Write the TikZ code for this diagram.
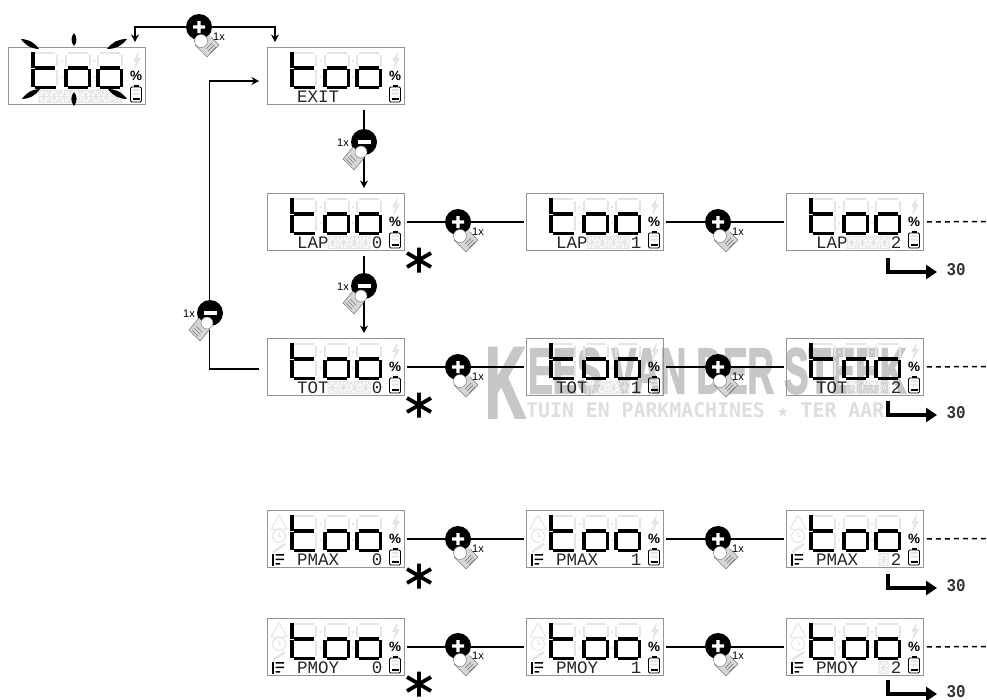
\documentclass[tikz,border=0pt]{standalone}
\usepackage{fontspec}
\setmainfont{Liberation Sans}
\newfontfamily\segfont{Liberation Mono}
\newfontfamily\markfont{DejaVu Sans Mono}
\newfontfamily\wmfont[FakeBold=3]{Liberation Sans}
\usetikzlibrary{arrows.meta}
\definecolor{ghost}{gray}{0.90}
\definecolor{frameg}{gray}{0.58}
\definecolor{fingerg}{gray}{0.84}
\definecolor{wmark}{gray}{0.78}
\definecolor{wmarkb}{gray}{0.87}
\tikzset{
  lcdbox/.style={draw=frameg,line width=0.9pt,minimum width=137pt,minimum height=57pt,inner sep=0,anchor=north west},
  seg/.style={line width=3.3pt,black,line cap=butt},
  gseg/.style={line width=2.8pt,ghost,line cap=butt},
  rowline/.style={line width=1.9pt,black},
  flow/.style={line width=1.9pt,black,line join=miter,-{Stealth[length=7.5pt,width=8pt]}},
  fatflow/.style={line width=3.8pt,black,line join=miter,-{Triangle[length=11pt,width=14pt]}},
  dashline/.style={line width=1.5pt,black,dash pattern=on 5pt off 4pt},
  btnnode/.style={circle,fill=black,minimum size=26pt,inner sep=0},
  timeslab/.style={font=\fontsize{11}{11}\selectfont,inner sep=0},
  seglab/.style={font=\segfont\fontsize{17.5}{17.5}\selectfont,text=black!85,inner sep=0},
  pics/lcdface/.style={code={
    \foreach \dx in {0,33,65}{
      \draw[gseg] (27+\dx,6)--(47+\dx,6) (25+\dx,8)--(25+\dx,19) (49+\dx,8)--(49+\dx,19) (49+\dx,23)--(49+\dx,38) (25+\dx,23)--(25+\dx,38);
    }
    \fill[ghost] (53.5,14) circle (1.3) (53.5,30) circle (1.3) (86,14) circle (1.3) (86,30) circle (1.3);
    \draw[seg] (25,5)--(25,20.5) (25,22)--(25,40) (26.5,21)--(47,21) (26.5,40.5)--(47.5,40.5);
    \foreach \dx in {0,32}{
      \draw[seg] (58+\dx,22)--(58+\dx,40) (59.5+\dx,21)--(80+\dx,21) (59.5+\dx,40.5)--(80+\dx,40.5) (81.5+\dx,22)--(81.5+\dx,40);
    }
    \fill[ghost] (131,4)--(125,14)--(128,14)--(126,23)--(133,11)--(130,11)--cycle;
    \node[font=\bfseries\fontsize{13.5}{13.5}\selectfont,inner sep=0] (-pct) at (128,29) {\%};
    \fill[black] (125.5,38) rectangle (130.5,40);
    \draw[black,line width=0.9pt,rounded corners=1.2pt] (122.5,40) rectangle (133.5,55);
    \fill[ghost] (124.5,42) rectangle (131.5,44) (124.5,45.5) rectangle (131.5,47.5);
    \fill[black] (124.5,50.5) rectangle (131.5,52.5);
  }},
  pics/pmicons/.style={code={
    \draw[ghost,line width=1pt,line join=round] (12,5)--(20,19)--(4,19)--cycle;
    \draw[ghost,line width=1pt] (12,26) circle (6.5) (12,22)--(12,26)--(15,27);
    \draw[ghost,line width=2.4pt] (6,42)--(18,34);
    \fill[black] (5,44) rectangle (6.6,55.5);
    \fill[black] (8.5,44) rectangle (17,45.6) (8.5,48.5) rectangle (17,50) (8.5,53) rectangle (13,54.6);
  }},
  pics/cells/.style={code={
    \foreach \c in {#1}{
      \draw[ghost,line width=1pt] (\c,43.5) rectangle (\c+9,55.5) (\c,49.5)--(\c+9,49.5) (\c+4.5,43.5)--(\c+4.5,55.5) (\c,43.5)--(\c+9,55.5) (\c+9,43.5)--(\c,55.5);
    }
  }},
  pics/plussign/.style={code={
    \fill[white] (-6,-1.7) rectangle (6,1.7) (-1.7,-6) rectangle (1.7,6);
    \fill[fingerg] (-4,18)--(8,30)--(20,18)--(10,8)--cycle;
    \draw[gray,line width=0.6pt] (-4,18)--(8,30)--(20,18)--(12,10);
    \draw[gray,line width=0.7pt] (7,22)--(13,16) (9,24)--(15,18) (11,26)--(17,20);
    \fill[white,draw=gray,line width=0.5pt] (2,14) circle (6.5);
  }},
  pics/minussign/.style={code={
    \fill[white] (-6.5,-1.7) rectangle (6.5,1.7);
    \fill[fingerg] (-21,17)--(-10,28)--(0,16)--(-11,5)--cycle;
    \draw[gray,line width=0.6pt] (-11,5)--(-21,17)--(-10,28)--(0,16);
    \draw[gray,line width=0.7pt] (-16,15)--(-10,21) (-14,13)--(-8,19) (-18,17)--(-12,23);
    \fill[white,draw=gray,line width=0.5pt] (-3,10) circle (6);
  }},
  pics/starmark/.style={code={
    \draw[black,line width=3.8pt] (0,-12.5)--(0,12.5) (-12,-7)--(12,7) (-12,7)--(12,-7);
  }}
}
\newcommand{\lcdunit}[5]{% name x y label digit
  \node[lcdbox] (#1) at (#2,#3) {};
  \pic (#1f) at (#1.north west) {lcdface};
  \begin{scope}[shift={(#1.north west)}]
    \node[seglab,anchor=west] (#1l) at (30,49.5) {#4};
    \node[seglab,anchor=center] (#1d) at (110,49.5) {#5};
  \end{scope}
}
\newcommand{\plusbtn}[3]{%
  \node[btnnode] (#1) at (#2,#3) {};
  \pic at (#1.center) {plussign};
  \node[timeslab] (#1x) at (#2+20,#3+10) {1x};
}
\newcommand{\minusbtn}[3]{%
  \node[btnnode] (#1) at (#2,#3) {};
  \pic at (#1.center) {minussign};
  \node[timeslab] (#1x) at (#2-21,#3+1) {1x};
}
\newcommand{\fatarrow}[2]{% x, y of start
  \coordinate (fa#2) at (#1,#2);
  \coordinate (fb#2) at (#1,#2+14);
  \coordinate (fc#2) at (937,#2+14);
  \draw[fatflow] (fa#2)--(fb#2)--(fc#2);
  \node[font=\segfont\bfseries,text=black!80,inner sep=0] (th#2) at (956,#2+11.5) {\resizebox{19pt}{12pt}{30}};
}
\begin{document}
\begin{tikzpicture}[x=1pt,y=-1pt]
\useasboundingbox (0,0) rectangle (987,699);
% watermark
\node[anchor=north west,inner sep=0,text=wmark] (wk) at (485,348) {\resizebox{40pt}{69pt}{\wmfont\bfseries K}};
\node[anchor=north west,inner sep=0,text=wmark] (wt) at (528,348) {\resizebox{378pt}{45pt}{\wmfont\bfseries EES VAN DER STEEK}};
\node[anchor=north west,inner sep=0,text=wmarkb] (ws) at (526,402) {\resizebox{358pt}{15pt}{\markfont\bfseries TUIN EN PARKMACHINES ★ TER AAR}};
% displays
\lcdunit{a}{8}{47}{}{}
\pic at (a.north west) {cells={31,41.5,52,62.5,73,83.5,94,104.5}};
\lcdunit{exit}{267}{47}{EXIT}{}
\lcdunit{lapa}{267}{193}{LAP}{0}
\pic at (lapa.north west) {cells={61,72,83,94}};
\lcdunit{lapb}{526}{193}{LAP}{1}
\pic at (lapb.north west) {cells={61,72,83,94}};
\lcdunit{lapc}{786}{193}{LAP}{2}
\pic at (lapc.north west) {cells={61,72,83,94}};
\lcdunit{tota}{267}{338}{TOT}{0}
\pic at (tota.north west) {cells={61,72,83,94}};
\lcdunit{totb}{526}{338}{TOT}{1}
\pic at (totb.north west) {cells={61,72,83,94}};
\lcdunit{totc}{786}{338}{TOT}{2}
\pic at (totc.north west) {cells={61,72,83,94}};
\lcdunit{pxa}{267}{510}{PMAX}{0}
\lcdunit{pxb}{526}{510}{PMAX}{1}
\lcdunit{pxc}{786}{510}{PMAX}{2}
\pic at (pxc.north west) {cells={93}};
\lcdunit{pya}{267}{618}{PMOY}{0}
\lcdunit{pyb}{526}{618}{PMOY}{1}
\lcdunit{pyc}{786}{618}{PMOY}{2}
\pic at (pyc.north west) {cells={93}};
\foreach \b in {pxa,pxb,pxc,pya,pyb,pyc}{\pic at (\b.north west) {pmicons};}
% flashing marks
\foreach \ax/\ay/\bx/\by in {21/39/39/49,107/49/127/39,40/89/22/99,127/99/108/89}{
  \fill[black] (\ax,\ay) to[bend left=26] (\bx,\by) to[bend left=26] (\ax,\ay);
}
\foreach \ax/\ay/\bx/\by in {74/33/74/46,74/106/74/92}{
  \fill[black] (\ax,\ay) to[bend left=40] (\bx,\by) to[bend left=40] (\ax,\ay);
}
% row connectors
\foreach \l/\r in {lapa/lapb,lapb/lapc,tota/totb,totb/totc,pxa/pxb,pxb/pxc,pya/pyb,pyb/pyc}{
  \draw[rowline,shorten <=2pt,shorten >=2pt] (\l.east)--(\r.west);
}
% dashed continuations
\foreach \b/\y in {lapc/221.5,totc/366.5,pxc/538.5,pyc/646.5}{
  \coordinate (\b end) at (987,\y);
  \draw[dashline,shorten <=3pt] (\b.east)--(\b end);
}
% top split
\coordinate (ta) at (135,42); \coordinate (tb) at (275,42); \coordinate (tm) at (199,27);
\draw[flow] (tm)-|(ta);
\draw[flow] (tm)-|(tb);
% vertical flow
\coordinate (v1) at (364,110); \coordinate (v2) at (364,188);
\coordinate (v3) at (364,256); \coordinate (v4) at (364,333);
\draw[flow] (v1)--(v2);
\draw[flow] (v3)--(v4);
% return loop
\coordinate (r0) at (259,369); \coordinate (r1) at (209.5,369); \coordinate (r2) at (209.5,81); \coordinate (r3) at (259,81);
\draw[flow] (r0)--(r1)--(r2)--(r3);
% buttons
\plusbtn{p0}{199}{27}
\minusbtn{m1}{364}{142}
\minusbtn{m2}{364}{286}
\minusbtn{m3}{210}{313}
\foreach \n/\x/\y in {pa/458/222,pb/718/222,pc/458/367,pd/718/367,pe/458/539,pf/718/539,pg/458/646,ph/718/646}{
  \plusbtn{\n}{\x}{\y}
}
% stars
\foreach \y in {260,405,576,684}{\pic at (419,\y) {starmark};}
% fat arrows
\fatarrow{888}{258}
\fatarrow{888}{401}
\fatarrow{888}{574}
\fatarrow{888}{680}
\end{tikzpicture}
\end{document}
